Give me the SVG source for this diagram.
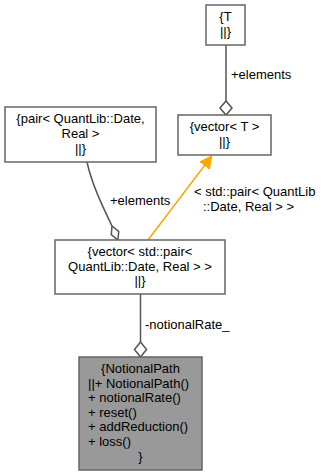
<svg xmlns="http://www.w3.org/2000/svg" width="323" height="476" viewBox="0 0 323 476">
<style>
  text { font-family: "Liberation Sans", Arial, sans-serif; font-size: 13px; fill: #000; }
  .box { fill: #fff; stroke: #666; stroke-width: 1.5; }
  .cur { fill: #999; stroke: #666; stroke-width: 1.5; }
  .edge { fill: none; stroke: #555; stroke-width: 1.5; }
  .inh { fill: none; stroke: #ffa500; stroke-width: 1.5; }
  .dia { fill: #fff; stroke: #555; stroke-width: 1.5; }
</style>
<defs>
  <marker id="tri" viewBox="0 0 10 10" refX="9" refY="5" markerWidth="12" markerHeight="12" orient="auto" markerUnits="userSpaceOnUse">
    <path d="M0,0 L10,5 L0,10 Z" fill="#ffa500" stroke="#ffa500"/>
  </marker>
</defs>

<g id="edges">
  <!-- T to vector<T> -->
  <path class="edge" d="M226,45 V101"/>
  <path class="dia" d="M226,101 L232,108 L226,115 L220,108 Z"/>
  <text x="231" y="79">+elements</text>
  <!-- pair to vector<pair> -->
  <path class="edge" d="M87,162 C92,185 103,207 112,226"/>
  <path class="dia" d="M112,226 L118.7,231.4 L118,240 L111.3,234.6 Z"/>
  <text x="110" y="205">+elements</text>
  <!-- template instance -->
  <path class="inh" d="M148,240 L211,157" marker-end="url(#tri)"/>
  <text x="194" y="196">&lt; std::pair&lt; QuantLib</text>
  <text x="203" y="211">::Date, Real &gt; &gt;</text>
  <!-- vector<pair> to NotionalPath -->
  <path class="edge" d="M140.5,294 V342"/>
  <path class="dia" d="M140.5,342 L146.5,349.5 L140.5,357 L134.5,349.5 Z"/>
  <text x="145" y="329">-notionalRate_</text>
</g>

<g id="node_T">
  <rect class="box" x="206" y="5" width="39" height="40"/>
  <text x="225.5" y="21" text-anchor="middle">{T</text>
  <text x="225.5" y="36" text-anchor="middle">||}</text>
</g>

<g id="node_vectorT">
  <rect class="box" x="178" y="115" width="93" height="40"/>
  <text x="224.5" y="131" text-anchor="middle">{vector&lt; T &gt;</text>
  <text x="224.5" y="146" text-anchor="middle">||}</text>
</g>

<g id="node_pair">
  <rect class="box" x="5" y="107" width="151" height="55"/>
  <text x="80.5" y="123" text-anchor="middle">{pair&lt; QuantLib::Date,</text>
  <text x="80.5" y="138" text-anchor="middle">Real &gt;</text>
  <text x="80.5" y="153" text-anchor="middle">||}</text>
</g>

<g id="node_vectorPair">
  <rect class="box" x="55" y="240" width="170" height="54"/>
  <text x="140" y="256" text-anchor="middle">{vector&lt; std::pair&lt;</text>
  <text x="140" y="271" text-anchor="middle">QuantLib::Date, Real &gt; &gt;</text>
  <text x="140" y="285" text-anchor="middle">||}</text>
</g>

<g id="node_NotionalPath">
  <rect class="cur" x="79" y="357" width="123" height="113"/>
  <text x="140.5" y="373" text-anchor="middle">{NotionalPath</text>
  <text x="88" y="388">||+ NotionalPath()</text>
  <text x="88" y="402">+ notionalRate()</text>
  <text x="88" y="417">+ reset()</text>
  <text x="88" y="431">+ addReduction()</text>
  <text x="88" y="446">+ loss()</text>
  <text x="140.5" y="461" text-anchor="middle">}</text>
</g>
</svg>
